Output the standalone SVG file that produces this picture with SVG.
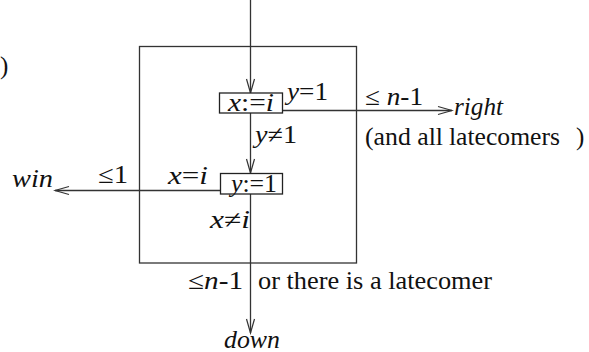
<svg xmlns="http://www.w3.org/2000/svg" width="589" height="352" viewBox="0 0 589 352">
<defs>
<style>
.ln{stroke:#333;stroke-width:1.3;fill:none}
.bx{stroke:#222;stroke-width:1.3;fill:#fff}
.tx{font-family:"Liberation Serif","Times New Roman",serif;font-size:25px;fill:#111}
.it{font-style:italic}
</style>
<marker id="arr" viewBox="-16 -6 18 12" refX="0" refY="0" markerWidth="18" markerHeight="12" orient="auto" markerUnits="userSpaceOnUse">
<path d="M-14,-4 L0,0 L-14,4" fill="none" stroke="#333" stroke-width="1.2"/>
</marker>
</defs>
<rect width="589" height="352" fill="#fff"/>
<g class="tx">
<text x="0" y="74">)</text>
</g>
<rect id="frame" x="139.5" y="46.5" width="217" height="216.5" class="ln"/>
<g id="connectors">
<line x1="250.5" y1="0" x2="250.5" y2="93" class="ln" marker-end="url(#arr)"/>
<line x1="250.5" y1="113" x2="250.5" y2="173" class="ln" marker-end="url(#arr)"/>
<line x1="250.5" y1="194" x2="250.5" y2="333" class="ln" marker-end="url(#arr)"/>
<line x1="282" y1="110.5" x2="452" y2="110.5" class="ln" marker-end="url(#arr)"/>
<line x1="220.5" y1="190.5" x2="55" y2="190.5" class="ln" marker-end="url(#arr)"/>
</g>
<g id="node-x" class="tx">
<rect x="219.5" y="93" width="63" height="20" class="bx"/>
<text x="228" y="111" textLength="46" lengthAdjust="spacingAndGlyphs"><tspan class="it">x</tspan>:=<tspan class="it">i</tspan></text>
</g>
<g id="node-y" class="tx">
<rect x="220.5" y="173.5" width="62" height="20.5" class="bx"/>
<text x="231" y="192" textLength="46" lengthAdjust="spacingAndGlyphs"><tspan class="it">y</tspan>:=1</text>
</g>
<g id="labels" class="tx">
<text x="287" y="100" textLength="41" lengthAdjust="spacingAndGlyphs"><tspan class="it">y</tspan>=1</text>
<text x="365" y="105" textLength="58" lengthAdjust="spacingAndGlyphs">≤ <tspan class="it">n</tspan>-1</text>
<text x="454" y="115" class="it" textLength="49" lengthAdjust="spacingAndGlyphs">right</text>
<text x="365" y="145" textLength="78" lengthAdjust="spacingAndGlyphs">(and all</text>
<text x="449" y="145" textLength="111" lengthAdjust="spacingAndGlyphs">latecomers</text>
<text x="576" y="145">)</text>
<text x="255" y="143" textLength="42" lengthAdjust="spacingAndGlyphs"><tspan class="it">y</tspan>≠1</text>
<text x="168" y="184" textLength="40" lengthAdjust="spacingAndGlyphs"><tspan class="it">x</tspan>=<tspan class="it">i</tspan></text>
<text x="98" y="183" textLength="30" lengthAdjust="spacingAndGlyphs">≤1</text>
<text x="12" y="187" class="it" textLength="41" lengthAdjust="spacingAndGlyphs">win</text>
<text x="210" y="228" textLength="40" lengthAdjust="spacingAndGlyphs"><tspan class="it">x</tspan>≠<tspan class="it">i</tspan></text>
<text x="188" y="289" textLength="55" lengthAdjust="spacingAndGlyphs">≤<tspan class="it">n</tspan>-1</text>
<text x="258" y="289" textLength="234" lengthAdjust="spacingAndGlyphs">or there is a latecomer</text>
<text x="224" y="348" class="it" textLength="56" lengthAdjust="spacingAndGlyphs">down</text>
</g>
</svg>
